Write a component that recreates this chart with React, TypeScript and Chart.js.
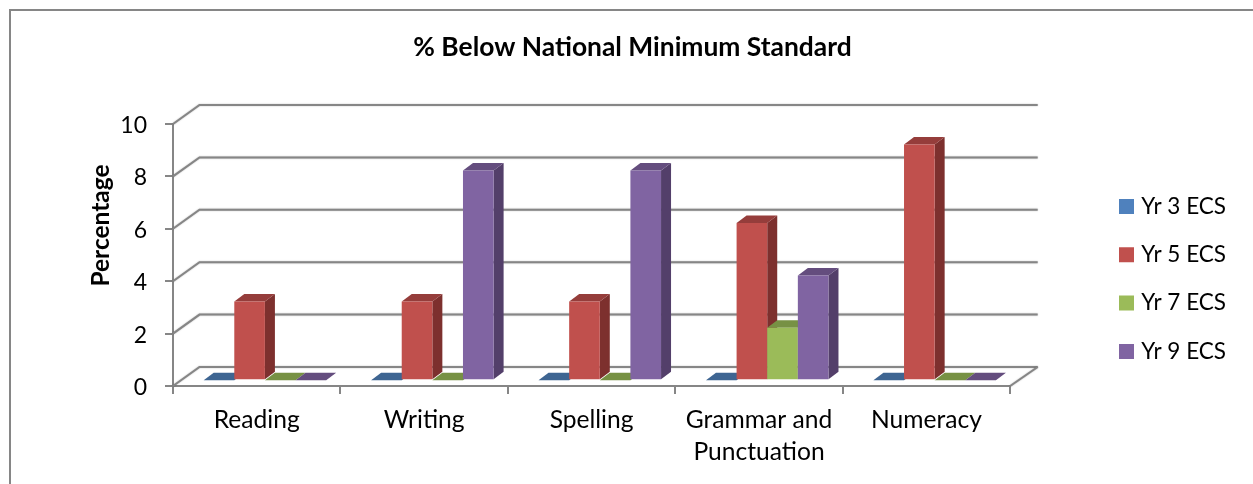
import React, { useEffect, useRef } from "react";
import { Chart, registerables } from "chart.js";

Chart.register(...registerables);

const chartTitle = "% Below National Minimum Standard";
const yAxisTitle = "Percentage";
const categories = ["Reading", "Writing", "Spelling", ["Grammar and", "Punctuation"], "Numeracy"];
const seriesNames = ["Yr 3 ECS", "Yr 5 ECS", "Yr 7 ECS", "Yr 9 ECS"];
const yr3 = [0, 0, 0, 0, 0];
const yr5 = [3, 3, 3, 6, 9];
const yr7 = [0, 0, 0, 2, 0];
const yr9 = [0, 8, 8, 4, 0];
const seriesValues = [yr3, yr5, yr7, yr9];
const frontColors = ["#4f81bd", "#c0504d", "#9bbb59", "#8064a2"];
const topColors = ["#3e6592", "#953d3b", "#779144", "#644d7e"];
const sideColors = ["#335479", "#7d302e", "#627838", "#533f6a"];

const FONT = "Lato";
const GRAY = "#868686";
// floor / wall depth and the bar inset and depth of the 3-D projection
const WALL_DX = 26.5, WALL_DY = -19;
const BAR_DX = 8.2, BAR_DY = -5.8;
const DEPTH_DX = 10, DEPTH_DY = -7.5;
const Y_LABEL_NUDGE = 1.6;

const threeD = {
  id: "threeD",
  beforeDraw(chart: any) {
    const { ctx } = chart;
    ctx.save();
    ctx.fillStyle = "#fff";
    ctx.fillRect(0, 0, chart.width, chart.height);
    ctx.strokeStyle = GRAY;
    ctx.lineWidth = 2;
    ctx.strokeRect(10, 10, chart.width + 20, chart.height + 20);
    ctx.restore();
  },
  afterLayout(chart: any) {
    const legend = chart.legend;
    const pad = legend.options.labels.padding;
    const h = legend.height;
    const w = legend.width;
    legend.left = 1123 - pad;
    legend.right = legend.left + w;
    legend.top = 195.25 - pad;
    legend.bottom = legend.top + h;
    const t = chart.titleBlock;
    t.left += 53;
    t.right += 53;
    const y = chart.scales.y;
    const compute = y._computeLabelItems.bind(y);
    y._computeLabelItems = (area: any) =>
      compute(area).map((item: any) => ({
        ...item,
        options: {
          ...item.options,
          translation: [item.options.translation[0], item.options.translation[1] + Y_LABEL_NUDGE],
        },
      }));
  },
  beforeDatasetsDraw(chart: any) {
    const { ctx, scales } = chart;
    const y = scales.y;
    const L = chart.chartArea.left, R = chart.chartArea.right;
    ctx.save();
    ctx.strokeStyle = GRAY;
    ctx.lineWidth = 2;
    ctx.lineCap = "butt";
    ctx.shadowColor = "rgba(0,0,0,0.3)";
    ctx.shadowBlur = 1.5;
    y.ticks.forEach((t: any) => {
      const py = y.getPixelForValue(t.value);
      ctx.beginPath();
      ctx.moveTo(L, py);
      ctx.lineTo(L + WALL_DX, py + WALL_DY);
      ctx.lineTo(R + WALL_DX + 1, py + WALL_DY);
      ctx.stroke();
    });
    const py0 = y.getPixelForValue(0);
    ctx.beginPath();
    ctx.moveTo(R, py0);
    ctx.lineTo(R + WALL_DX + 1, py0 + WALL_DY);
    ctx.stroke();
    ctx.restore();

    chart.data.datasets.forEach((_: any, i: number) => {
      const meta = chart.getDatasetMeta(i);
      ctx.save();
      ctx.translate(BAR_DX, BAR_DY);
      meta.data.forEach((bar: any) => {
        const l = bar.x - bar.width / 2;
        const r = bar.x + bar.width / 2;
        const top = bar.y, base = bar.base;
        ctx.fillStyle = sideColors[i];
        ctx.beginPath();
        ctx.moveTo(r, base);
        ctx.lineTo(r + DEPTH_DX, base + DEPTH_DY);
        ctx.lineTo(r + DEPTH_DX, top + DEPTH_DY);
        ctx.lineTo(r, top);
        ctx.closePath();
        ctx.fill();
        ctx.fillStyle = topColors[i];
        ctx.beginPath();
        ctx.moveTo(l, top);
        ctx.lineTo(l + DEPTH_DX, top + DEPTH_DY);
        ctx.lineTo(r + DEPTH_DX, top + DEPTH_DY);
        ctx.lineTo(r, top);
        ctx.closePath();
        ctx.fill();
      });
      meta.controller.draw();
      ctx.restore();
    });

    ctx.save();
    ctx.translate(101.5, 225.5);
    ctx.rotate(-Math.PI / 2);
    ctx.font = `bold 24.5px ${FONT}`;
    ctx.fillStyle = "#000";
    ctx.textAlign = "center";
    ctx.textBaseline = "middle";
    ctx.fillText(yAxisTitle, 0, 0);
    ctx.restore();
    return false;
  },
};

export default function App() {
  const ref = useRef<HTMLCanvasElement>(null);
  useEffect(() => {
    document.body.style.margin = "0";
    document.body.style.overflow = "hidden";
    const chart = new Chart(ref.current!, {
      type: "bar",
      data: {
        labels: categories as any,
        datasets: seriesNames.map((name, i) => ({
          label: name,
          data: seriesValues[i],
          backgroundColor: frontColors[i],
          borderWidth: 0,
        })),
      },
      plugins: [threeD],
      options: {
        responsive: false,
        animation: false,
        events: [],
        layout: { padding: { left: 10, top: 10, right: 104, bottom: 0 } },
        datasets: { bar: { categoryPercentage: 0.7317, barPercentage: 1 } },
        plugins: {
          tooltip: { enabled: false },
          title: {
            display: true,
            text: chartTitle,
            color: "#000",
            font: { family: FONT, size: 26.4, weight: "bold", lineHeight: 1.2 },
            padding: { top: 21.2, bottom: 61.1 },
          },
          legend: {
            position: "right",
            align: "start",
            labels: {
              boxWidth: 7,
              boxHeight: 7,
              padding: 25.8,
              color: "#000",
              font: { family: FONT, size: 22.5 },
              generateLabels: () =>
                seriesNames.map((name, i) => ({
                  text: name,
                  fillStyle: frontColors[i],
                  strokeStyle: frontColors[i],
                  lineWidth: 8,
                  fontColor: "#000",
                  datasetIndex: i,
                })),
            },
          },
        },
        scales: {
          x: {
            afterFit: (s: any) => { s.height = 98; },
            grid: { drawOnChartArea: false, color: GRAY, lineWidth: 2, tickLength: 8 },
            border: { color: GRAY, width: 2 },
            ticks: {
              color: "#000",
              padding: 10,
              maxRotation: 0,
              autoSkip: false,
              font: { family: FONT, size: 24.6, lineHeight: 1.3 },
            },
          },
          y: {
            min: 0,
            max: 10,
            afterFit: (s: any) => { s.width = 163; },
            grid: { drawOnChartArea: false, color: GRAY, lineWidth: 2, tickLength: 8 },
            border: { color: GRAY, width: 2 },
            ticks: {
              stepSize: 2,
              color: "#000",
              padding: 18,
              font: { family: FONT, size: 23 },
            },
          },
        },
      } as any,
    });
    return () => chart.destroy();
  }, []);
  return <canvas ref={ref} width={1253} height={484} style={{ display: "block" }} />;
}
